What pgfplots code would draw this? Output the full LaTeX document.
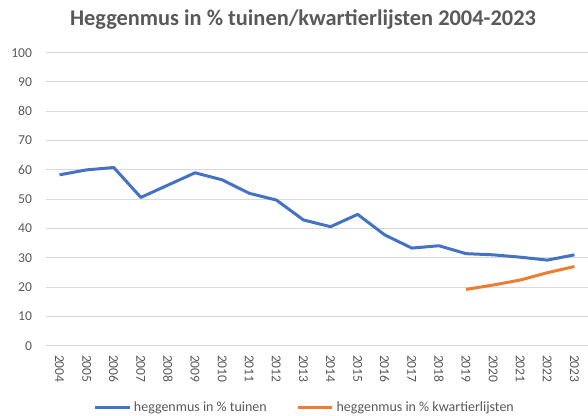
\documentclass[border=0pt]{standalone}
\usepackage{pgfplots}
\pgfplotsset{compat=1.18}
\usepackage{fontspec}
\setmainfont{Carlito}
\definecolor{cblue}{HTML}{4472C4}
\definecolor{corange}{HTML}{ED7D31}
\definecolor{cgrid}{HTML}{D9D9D9}
\definecolor{ctext}{HTML}{595959}
\begin{document}
\begin{tikzpicture}
\useasboundingbox (-34.5pt,-52.7pt) rectangle (406.5pt,259.25pt);
\begin{axis}[
  at={(0,0)}, anchor=south west,
  scale only axis, width=406.5pt, height=219.75pt,
  xmin=-0.5, xmax=19.5, ymin=0, ymax=100,
  ytick={0,10,...,100},
  xtick={0,...,19},
  xticklabels={2004,2005,2006,2007,2008,2009,2010,2011,2012,2013,2014,2015,2016,2017,2018,2019,2020,2021,2022,2023},
  axis line style={draw=none},
  major tick length=0pt,
  ymajorgrids, grid style={cgrid, line width=0.75pt},
  /pgf/number format/assume math mode=true,
  ticklabel style={font=\fontsize{10.2pt}{12pt}\selectfont, text=ctext},
  yticklabel style={xshift=-7pt},
  xticklabel style={rotate=-90, anchor=west, xshift=3.5pt},
  legend style={at={(0.478,-0.2126)}, anchor=center, draw=none, fill=none,
    font=\fontsize{10.5pt}{12pt}\selectfont, text=ctext,
    /tikz/every even column/.append style={column sep=20pt}},
  legend columns=2,
  legend image code/.code={\draw[#1, line width=2.25pt] (0pt,0pt) -- (26pt,0pt);},
  clip=false,
]
\addplot[cblue, line width=2.25pt, line join=round] coordinates {
(0,58.3) (1,60.0) (2,60.8) (3,50.6) (4,54.8) (5,59.0) (6,56.6) (7,52.0) (8,49.7) (9,42.9)
(10,40.6) (11,44.8) (12,37.8) (13,33.3) (14,34.1) (15,31.4) (16,31.0) (17,30.2) (18,29.2) (19,31.0)};
\addlegendentry{heggenmus in \% tuinen}
\addplot[corange, line width=2.25pt, line join=round] coordinates {
(15,19.2) (16,20.7) (17,22.4) (18,24.9) (19,27.0)};
\addlegendentry{heggenmus in \% kwartierlijsten}
\end{axis}
\node[font=\bfseries\fontsize{16.8pt}{19pt}\selectfont, text=ctext] at (192.75pt,244.3pt) {Heggenmus in \% tuinen/kwartierlijsten 2004-2023};
\end{tikzpicture}
\end{document}
